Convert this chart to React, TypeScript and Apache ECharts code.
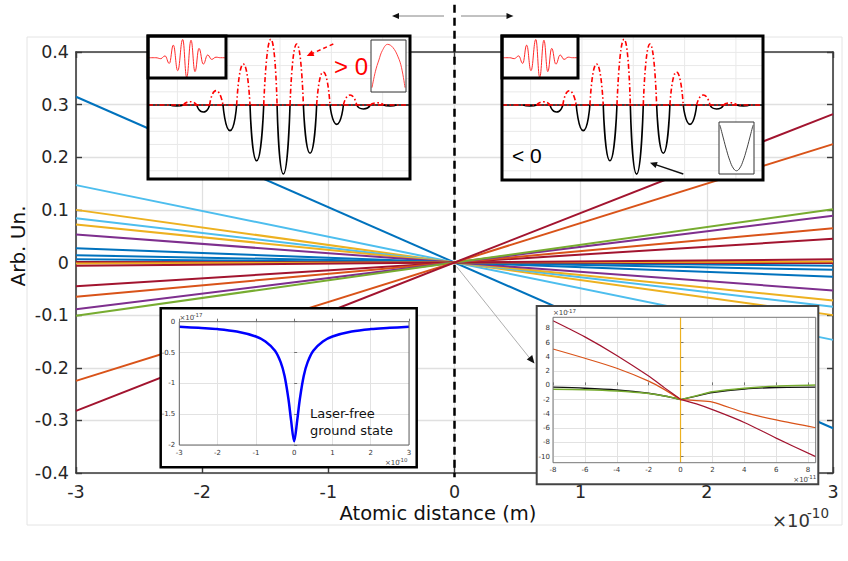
import React, { useEffect, useRef } from 'react';
import * as echarts from 'echarts';

const FONT = 'DejaVu Sans';
const ARIAL = 'Liberation Sans';

// ---------- main panel: straight lines through the origin ----------
// value of each line at x = -3 (x1e-10 m); the value at x = +3 is its negative
const lineAtMinus3 = [0.315, 0.147, 0.1, 0.084, 0.072, 0.053, 0.027, 0.014, 0.006, 0.001, -0.002, -0.006, -0.045, -0.065, -0.089, -0.101, -0.225, -0.282];
const lineColors = ['#0072BD', '#4DBEEE', '#EDB120', '#4DBEEE', '#EDB120', '#7E2F8E', '#0072BD', '#0072BD', '#0072BD', '#A2142F', '#EDB120', '#A2142F', '#A2142F', '#D95319', '#7E2F8E', '#77AC30', '#D95319', '#A2142F'];
const mainXRange = [-3, 3];
const mainYRange = [-0.4, 0.4];
const dashedSpan = [0.49, -0.408];

// ---------- pulse insets: alternating lobes (position, signed height) ----------
const lobeT = [-8.05, -7.01, -5.98, -4.99, -3.9, -2.86, -1.82, -0.72, 0.26, 1.3, 2.34, 3.37, 4.42, 5.46, 6.49, 7.58, 8.57];
const lobeA = [-0.08, 0.25, -0.53, 1.09, -1.95, 3.12, -4.24, 5.0, -5.25, 4.64, -3.67, 2.51, -1.47, 0.76, -0.3, 0.17, -0.08];
const pulseGridX = [-8, -4, 0, 4, 8];
const pulseGridY = [-5, -4, -3, -2, -1, 1, 2, 3, 4, 5];

// laser field packet (small corner boxes)
const packetT = [-10, -8, -6.74, -5.64, -4.54, -3.51, -2.38, -1.1, -0.08, 1.03, 2.05, 3.08, 4.18, 5.31, 6.33, 7.44, 8.6, 10];
const packetA = [0, 0, -0.05, 0.1, -0.31, 0.69, -0.71, 1.0, -1.07, 0.96, -0.76, 0.51, -0.35, 0.15, -0.09, 0.03, 0, 0];

// potential-shape icons
const archX = [0, 0.105, 0.21, 0.316, 0.474, 0.63, 0.79, 0.895, 1];
const archY = [0, 0.38, 0.64, 0.86, 1.0, 0.93, 0.71, 0.46, 0];
const wellX = [0, 0.1, 0.2, 0.3, 0.4, 0.5, 0.6, 0.7, 0.8, 0.9, 1];
const wellY = [1, 0.72, 0.45, 0.22, 0.06, 0, 0.06, 0.22, 0.45, 0.72, 1];

// ---------- laser-free ground state (x1e-10 m, x1e-17) ----------
const groundX = [-3, -2.5, -2, -1.5, -1, -0.75, -0.5, -0.35, -0.25, -0.15, -0.08, 0, 0.08, 0.15, 0.25, 0.35, 0.5, 0.75, 1, 1.5, 2, 2.5, 3];
const groundY = [-0.08, -0.1, -0.12, -0.16, -0.24, -0.32, -0.47, -0.66, -0.88, -1.25, -1.6, -1.94, -1.6, -1.25, -0.88, -0.66, -0.47, -0.32, -0.24, -0.16, -0.12, -0.1, -0.08];
const groundXRange = [-3, 3];
const groundYRange = [-2, 0];

// ---------- zoom near the origin (x1e-11 m, x1e-17) ----------
const zoomX = [-8, -6, -4, -2, -1, 0, 1, 2, 4, 6, 8.48];
const zoomRed = [9.07, 6.8, 4.2, 1.3, -0.35, -1.96, -2.6, -3.4, -5.2, -7.4, -10.0];
const zoomOrange = [5.1, 3.8, 2.4, 0.6, -0.6, -2.0, -2.15, -2.35, -3.8, -4.85, -5.95];
const zoomBlack = [-0.25, -0.4, -0.65, -1.1, -1.5, -2.0, -1.5, -1.0, -0.5, -0.3, -0.25];
const zoomGreen = [-0.55, -0.62, -0.8, -1.15, -1.5, -2.0, -1.45, -0.9, -0.4, -0.1, 0.05];
const zoomXTicks = [-8, -6, -4, -2, 0, 2, 4, 6, 8];
const zoomYTicks = [-10, -8, -6, -4, -2, 0, 2, 4, 6, 8];
const zoomXRange = [-8, 8.48];
const zoomYRange = [-10.85, 9.55];

// one [left-zero, peak, right-zero] triple per lobe of the given sign
function lobes(sign: number) {
  const n = lobeT.length;
  const out: number[][][] = [];
  for (let i = 0; i < n; i++) {
    const left = i === 0 ? lobeT[0] - (lobeT[1] - lobeT[0]) / 2 : (lobeT[i - 1] + lobeT[i]) / 2;
    const right = i === n - 1 ? lobeT[i] + (lobeT[i] - lobeT[i - 1]) / 2 : (lobeT[i] + lobeT[i + 1]) / 2;
    if (sign * lobeA[i] > 0) out.push([[left, 0], [lobeT[i], lobeA[i]], [right, 0]]);
  }
  return out;
}

const zip = (xs: number[], ys: number[]) => xs.map((x, i) => [x, ys[i]]);

function arrowHead(tip: number[], from: number[], len: number, half: number, color: string, z: number) {
  const dx = tip[0] - from[0];
  const dy = tip[1] - from[1];
  const d = Math.hypot(dx, dy);
  const ux = dx / d;
  const uy = dy / d;
  const bx = tip[0] - ux * len;
  const by = tip[1] - uy * len;
  return {
    type: 'polygon',
    shape: { points: [tip, [bx - uy * half, by + ux * half], [bx + uy * half, by - ux * half]] },
    style: { fill: color },
    z,
    silent: true,
  };
}

function rect(x: number, y: number, w: number, h: number, style: any, z: number) {
  return { type: 'rect', shape: { x, y, width: w, height: h }, style, z, silent: true };
}

function text(x: number, y: number, str: string, size: number, color: string, opts: any = {}) {
  return {
    type: 'text',
    x,
    y,
    z: 11,
    silent: true,
    rotation: opts.rotation || 0,
    style: {
      text: str,
      fontSize: size,
      fontFamily: opts.family || FONT,
      fill: color,
      align: opts.align || 'left',
      verticalAlign: 'middle',
    },
  };
}

function exponent(x: number, y: number, base: string, sup: string, size: number, supSize: number, baseWidth: number, color: string) {
  return [text(x, y, base, size, color), text(x + baseWidth, y - size * 0.4, sup, supSize, color)];
}

function buildOption() {
  const grids: any[] = [
    { left: 76, top: 52, width: 757, height: 421 },
    { left: 148, top: 36, width: 262, height: 143 },
    { left: 148, top: 36, width: 78, height: 42 },
    { left: 371, top: 40, width: 35, height: 52 },
    { left: 502, top: 36, width: 261, height: 144 },
    { left: 502, top: 36, width: 76, height: 42 },
    { left: 719, top: 122, width: 35, height: 52 },
    { left: 179.3, top: 321.7, width: 229.7, height: 123.3 },
    { left: 553, top: 317.3, width: 262.7, height: 145.4 },
  ].map((g) => ({ ...g, containLabel: false, outerBoundsMode: 'none' }));

  const axisDark = '#3a3a3a';
  const mainX = (position: string, labels: boolean) => ({
    type: 'value', gridIndex: 0, min: mainXRange[0], max: mainXRange[1], interval: 1, position,
    axisLine: { show: true, onZero: false, lineStyle: { color: axisDark, width: 1.6 } },
    axisTick: { show: true, inside: true, length: 6, lineStyle: { color: axisDark, width: 1.4 } },
    axisLabel: { show: labels, fontSize: 17.5, fontFamily: FONT, color: '#262626', margin: 10 },
    splitLine: { show: labels, lineStyle: { color: '#e0e0e0', width: 1.3 } },
  });
  const mainY = (position: string, labels: boolean) => ({
    type: 'value', gridIndex: 0, min: mainYRange[0], max: mainYRange[1], interval: 0.1, position,
    axisLine: { show: true, onZero: false, lineStyle: { color: axisDark, width: 1.6 } },
    axisTick: { show: true, inside: true, length: 6, lineStyle: { color: axisDark, width: 1.4 } },
    axisLabel: { show: labels, fontSize: 17.5, fontFamily: FONT, color: '#262626', margin: 7, formatter: (v: number) => String(Math.round(v * 10) / 10) },
    splitLine: { show: labels, lineStyle: { color: '#e0e0e0', width: 1.3 } },
  });
  const hidden = (gridIndex: number, min: number, max: number) => ({ type: 'value', gridIndex, min, max, show: false, z: 6 });

  const insetAxis = (gridIndex: number, min: number, max: number, ticks: number[], margin: number) => ({
    type: 'value', gridIndex, min, max, z: 6,
    axisLine: { show: false },
    axisTick: { show: true, inside: true, length: 3, customValues: ticks, lineStyle: { color: '#555', width: 0.8 } },
    axisLabel: { fontSize: 7, fontFamily: FONT, color: '#333', margin, customValues: ticks },
    splitLine: { show: true, lineStyle: { color: '#e2e2e2', width: 1 } },
  });

  const xAxis = [
    mainX('bottom', true),
    mainX('top', false),
    hidden(1, -10.29, 10.13),
    hidden(2, -10, 10),
    hidden(3, -0.03, 1.03),
    hidden(4, -10.23, 10.11),
    hidden(5, -10, 10),
    hidden(6, -0.03, 1.03),
    insetAxis(7, groundXRange[0], groundXRange[1], [-3, -2, -1, 0, 1, 2, 3], 4),
    insetAxis(8, zoomXRange[0], zoomXRange[1], zoomXTicks, 4),
  ];
  const yAxis = [
    mainY('left', true),
    mainY('right', false),
    hidden(1, -5.627, 5.247),
    hidden(2, -1.11, 1.19),
    hidden(3, -0.1, 1.1),
    hidden(4, -5.7, 5.247),
    hidden(5, -1.11, 1.19),
    hidden(6, -0.07, 1.07),
    insetAxis(7, groundYRange[0], groundYRange[1], [-2, -1.5, -1, -0.5, 0], 4),
    insetAxis(8, zoomYRange[0], zoomYRange[1], zoomYTicks, 3),
  ];

  const series: any[] = [];
  const line = (axis: number, data: number[][], style: any, extra: any = {}) => {
    series.push({
      type: 'line', xAxisIndex: axis, yAxisIndex: axis, data, showSymbol: false, symbol: 'none', silent: true,
      lineStyle: style, ...extra,
    });
  };

  // main panel lines
  lineAtMinus3.forEach((v, i) => {
    line(0, [[mainXRange[0], v], [mainXRange[1], -v]], { color: lineColors[i], width: 2 }, { z: 2 });
  });
  // x = 0 dashed marker
  line(0, [[0, dashedSpan[0]], [0, dashedSpan[1]]], { color: '#000', width: 2.5, type: [8, 5] }, { z: 3, clip: false });

  // pulse boxes
  const redDash = [5, 2.5, 1.5, 2.5];
  [2, 5].forEach((ax) => {
    const yMin = ax === 2 ? -5.627 : -5.7;
    const yMax = 5.247;
    const xMin = ax === 2 ? -10.29 : -10.23;
    const xMax = ax === 2 ? 10.13 : 10.11;
    pulseGridX.forEach((gx) => line(ax, [[gx, yMin], [gx, yMax]], { color: '#e9e9e9', width: 1 }, { z: 6 }));
    pulseGridY.forEach((gy) => line(ax, [[xMin, gy], [xMax, gy]], { color: '#e9e9e9', width: 1 }, { z: 6 }));
    line(ax, [[xMin, 0], [xMax, 0]], { color: '#000', width: 1.6 }, { z: 7 });
    lobes(-1).forEach((lb) => line(ax, lb, { color: '#000', width: 1.6 }, { z: 7, smooth: 0.7 }));
    line(ax, [[xMin, 0], [xMax, 0]], { color: '#ff0000', width: 1.6, type: redDash }, { z: 7 });
    lobes(1).forEach((lb) => line(ax, lb, { color: '#ff0000', width: 1.6, type: redDash }, { z: 7, smooth: 0.7 }));
  });
  // field packets
  [3, 6].forEach((ax) => {
    line(ax, zip(packetT, packetA), { color: '#ff2a2a', width: 1 }, { z: 9, smooth: 0.45, smoothMonotone: 'x' });
  });
  line(4, zip(archX, archY), { color: '#ff4444', width: 1 }, { z: 9, smooth: 0.4 });
  line(7, zip(wellX, wellY), { color: '#444', width: 1 }, { z: 9, smooth: 0.4 });

  // ground state
  line(8, zip(groundX, groundY), { color: '#0000ff', width: 2.5 }, { z: 7, smooth: 0.35 });

  // zoom near the origin: each curve drawn as two halves meeting at x = 0
  const mid = zoomX.indexOf(0);
  const halves = (ys: number[]) => [zip(zoomX, ys).slice(0, mid + 1), zip(zoomX, ys).slice(mid)];
  line(9, [[0, zoomYRange[0]], [0, zoomYRange[1]]], { color: '#EDB120', width: 1.2 }, { z: 7 });
  const zoomCurves: [number[], string, number][] = [
    [zoomBlack, '#111', 1.4],
    [zoomGreen, '#77AC30', 1.4],
    [zoomOrange, '#D95319', 1.2],
    [zoomRed, '#A2142F', 1.2],
  ];
  zoomCurves.forEach(([ys, c, w]) => {
    halves(ys).forEach((h) => line(9, h, { color: c, width: w }, { z: 7, smooth: 0.3 }));
  });

  const white = { fill: '#ffffff' };
  const stroke = (c: string, w: number) => ({ fill: 'none', stroke: c, lineWidth: w });

  const graphic: any[] = [
    rect(27, 37, 815, 488, stroke('#e4e4e4', 1), 0),
    // inset backgrounds
    rect(148, 36, 262, 143, white, 5),
    rect(502, 36, 261, 144, white, 5),
    rect(160.7, 308.3, 256, 159, white, 5),
    rect(536.7, 306, 281.6, 178.3, white, 5),
    rect(148, 36, 78, 42, white, 8),
    rect(371, 40, 35, 52, white, 8),
    rect(502, 36, 76, 42, white, 8),
    rect(719, 122, 35, 52, white, 8),
    // frames
    rect(148, 36, 262, 143, stroke('#000', 3), 10),
    rect(502, 36, 261, 144, stroke('#000', 3), 10),
    rect(148, 36, 78, 42, stroke('#000', 3), 10),
    rect(502, 36, 76, 42, stroke('#000', 3), 10),
    rect(371, 40, 35, 52, stroke('#333', 1), 10),
    rect(719, 122, 35, 52, stroke('#333', 1), 10),
    rect(160.7, 308.3, 256, 159, stroke('#000', 2.5), 10),
    rect(536.7, 306, 281.6, 178.3, stroke('#444', 2), 10),
    rect(179.3, 321.7, 229.7, 123.3, stroke('#666', 1), 10),
    rect(553, 317.3, 262.7, 145.4, stroke('#777', 1), 10),

    // direction arrows above the plot
    { type: 'line', shape: { x1: 444, y1: 16, x2: 397, y2: 16 }, style: { stroke: '#777', lineWidth: 0.9 }, z: 11, silent: true },
    arrowHead([392, 16], [444, 16], 7, 3, '#111', 11),
    { type: 'line', shape: { x1: 461, y1: 16, x2: 508, y2: 16 }, style: { stroke: '#777', lineWidth: 0.9 }, z: 11, silent: true },
    arrowHead([513.5, 16], [461, 16], 7, 3, '#111', 11),

    // pointer from the origin to the zoom inset
    { type: 'line', shape: { x1: 456.5, y1: 266.5, x2: 530, y2: 358.5 }, style: { stroke: '#999', lineWidth: 0.8 }, z: 11, silent: true },
    arrowHead([534.5, 363.5], [456.5, 266.5], 8, 3.5, '#111', 11),

    // pulse annotations
    { type: 'line', shape: { x1: 333.3, y1: 44, x2: 311.5, y2: 53.8 }, style: { stroke: '#ff0000', lineWidth: 1.4, lineDash: [4, 3] }, z: 11, silent: true },
    arrowHead([306.7, 56], [333.3, 44], 7, 3.2, '#ff0000', 11),
    text(334, 66, '> 0', 24, '#ff0000', { family: ARIAL }),
    { type: 'line', shape: { x1: 683.3, y1: 174, x2: 655.5, y2: 164.6 }, style: { stroke: '#111', lineWidth: 1.4 }, z: 11, silent: true },
    arrowHead([650, 162.7], [683.3, 174], 7, 3.2, '#111', 11),
    text(512, 155, '< 0', 21, '#000', { family: ARIAL }),

    // ground state label
    text(310, 413.5, 'Laser-free', 13, '#111'),
    text(310, 430.5, 'ground state', 13, '#111'),

    // axis titles
    text(438, 513, 'Atomic distance (m)', 19.5, '#111', { align: 'center' }),
    text(18, 246, 'Arb. Un.', 20, '#111', { align: 'center', rotation: Math.PI / 2 }),

    ...exponent(772, 520, '\u00d710', '-10', 18, 13.5, 35, '#333'),
    ...exponent(179.5, 318, '\u00d710', '-17', 7, 5.5, 14, '#444'),
    ...exponent(385, 463, '\u00d710', '-10', 7, 5.5, 13.5, '#444'),
    ...exponent(553, 313.3, '\u00d710', '-17', 7, 5.5, 14, '#444'),
    ...exponent(793.3, 479.5, '\u00d710', '-11', 7, 5.5, 14, '#444'),
  ];

  return {
    animation: false,
    backgroundColor: '#ffffff',
    textStyle: { fontFamily: FONT },
    grid: grids,
    xAxis,
    yAxis,
    series,
    graphic: { elements: graphic },
  };
}

export default function App() {
  const ref = useRef<HTMLDivElement>(null);
  useEffect(() => {
    document.body.style.margin = '0';
    const chart = echarts.init(ref.current as HTMLDivElement, undefined, { renderer: 'svg' });
    chart.setOption(buildOption() as any);
    return () => chart.dispose();
  }, []);
  return <div ref={ref} style={{ position: 'absolute', left: 0, top: 0, width: 848, height: 561, background: '#fff' }} />;
}
